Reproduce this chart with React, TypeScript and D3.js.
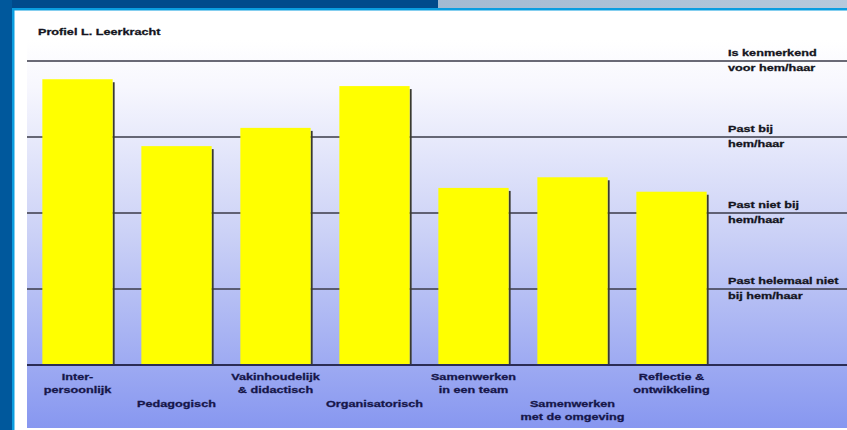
import React from 'react';
import * as d3 from 'd3';

const title = 'Profiel L. Leerkracht';

const categories: string[][] = [
  ['Inter-', 'persoonlijk'],
  ['Pedagogisch'],
  ['Vakinhoudelijk', '& didactisch'],
  ['Organisatorisch'],
  ['Samenwerken', 'in een team'],
  ['Samenwerken', 'met de omgeving'],
  ['Reflectie &', 'ontwikkeling'],
];

const scores = [3.76, 2.88, 3.12, 3.67, 2.33, 2.47, 2.28];

const levelValues = [4, 3, 2, 1];
const levelLabels: string[][] = [
  ['Is kenmerkend', 'voor hem/haar'],
  ['Past bij', 'hem/haar'],
  ['Past niet bij', 'hem/haar'],
  ['Past helemaal niet', 'bij hem/haar'],
];

const W = 847;
const H = 430;
const STRETCH = 1.28;
const FONT = '"Liberation Sans", Arial, sans-serif';

export default function App() {
  const x = d3
    .scaleBand<number>()
    .domain(d3.range(categories.length))
    .range([28, 721])
    .paddingInner(0.29)
    .paddingOuter(0.145);
  const y = d3.scaleLinear().domain([0, 4]).range([365, 61]);

  const textStyle = {
    fontFamily: FONT,
    fontWeight: 700,
    fontSize: 9.9,
    fill: '#16164a',
    stroke: '#16164a',
    strokeWidth: 0.3,
  } as const;
  const darkText = { ...textStyle, fill: '#141420', stroke: '#141420' };

  return (
    <svg width={W} height={H} style={{ position: 'fixed', left: 0, top: 0 }}>
      <defs>
        <linearGradient id="panel" x1="0" y1="0" x2="0" y2="1">
          <stop offset="0" stopColor="#ffffff" />
          <stop offset="0.12" stopColor="#f7f7fe" />
          <stop offset="0.5" stopColor="#cbd1f6" />
          <stop offset="1" stopColor="#8797f0" />
        </linearGradient>
        <linearGradient id="topLight" x1="0" y1="0" x2="1" y2="0">
          <stop offset="0" stopColor="#a3bad2" />
          <stop offset="1" stopColor="#b6c9dc" />
        </linearGradient>
      </defs>

      {/* frame */}
      <rect x={0} y={0} width={W} height={H} fill="#ffffff" />
      <rect x={27} y={40} width={W - 27} height={388} fill="url(#panel)" />
      <rect x={0} y={0} width={438} height={8} fill="#004a8c" />
      <rect x={438} y={0} width={W - 438} height={8} fill="url(#topLight)" />
      <rect x={0} y={8} width={W} height={2.5} fill="#0a9de0" />
      <rect x={0} y={0} width={12} height={H} fill="#00589c" />
      <rect x={12} y={8} width={2.5} height={H - 8} fill="#0a9de0" />

      {/* title */}
      <text transform={`translate(38,35) scale(${STRETCH},1)`} style={darkText}>
        {title}
      </text>

      {/* level lines */}
      {levelValues.map(v => (
        <line
          key={v}
          x1={27}
          x2={W}
          y1={y(v)}
          y2={y(v)}
          stroke="#3a3a48"
          strokeWidth={1.6}
        />
      ))}

      {/* bars */}
      {scores.map((s, i) => {
        const bx = x(i)!;
        const bw = x.bandwidth();
        return (
          <g key={i}>
            <rect x={bx + bw} y={y(s) + 3} width={2} height={y(0) - y(s) - 3} fill="#3a3a30" />
            <rect x={bx} y={y(s)} width={bw} height={y(0) - y(s)} fill="#ffff00" />
          </g>
        );
      })}

      {/* baseline */}
      <line x1={27} x2={W} y1={y(0)} y2={y(0)} stroke="#2b2d55" strokeWidth={2} />

      {/* level labels */}
      {levelValues.map((v, i) => (
        <g key={v}>
          {levelLabels[i].map((t, j) => (
            <text
              key={j}
              transform={`translate(728,${y(v) + (j === 0 ? -8.5 : 6.5)}) scale(${STRETCH},1)`}
              dy="0.35em"
              style={darkText}
            >
              {t}
            </text>
          ))}
        </g>
      ))}

      {/* category labels */}
      {categories.map((lines, i) => {
        const cx = x(i)! + x.bandwidth() / 2;
        const top = i % 2 === 0 ? 377 : 404;
        return (
          <g key={i}>
            {lines.map((t, j) => (
              <text
                key={j}
                transform={`translate(${cx},${top + j * 13}) scale(${STRETCH},1)`}
                textAnchor="middle"
                dy="0.35em"
                style={textStyle}
              >
                {t}
              </text>
            ))}
          </g>
        );
      })}
    </svg>
  );
}
